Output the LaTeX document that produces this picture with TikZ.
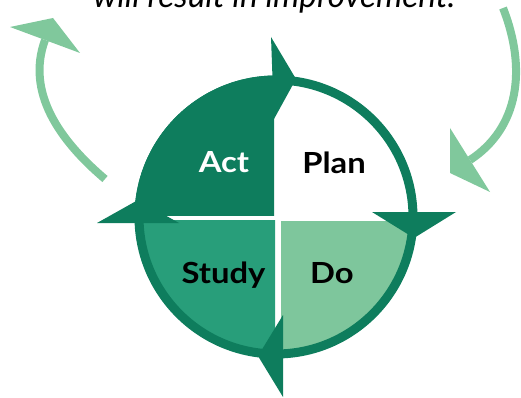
\documentclass[tikz,border=0pt]{standalone}
\usepackage{fontspec}
\setmainfont{Lato}
\usepackage{graphicx}
\definecolor{ringdark}{RGB}{14,125,93}
\definecolor{studyfill}{RGB}{40,158,122}
\definecolor{dofill}{RGB}{126,198,156}
\definecolor{outerarrow}{RGB}{128,200,156}
\newcommand{\lbltext}[1]{\scalebox{1.15}[1.02]{#1}}
\tikzset{
  lbl/.style={font=\bfseries\fontsize{28.5}{30}\selectfont, inner sep=0pt, anchor=base},
  outerline/.style={draw=outerarrow, line width=8pt},
  outerhead/.style={fill=outerarrow},
  ringhead/.style={fill=ringdark}
}
\begin{document}
\begin{tikzpicture}[x=1pt,y=-1pt]
\useasboundingbox (0,0) rectangle (521,398);
\clip (0,0) rectangle (521,398);
\coordinate (C) at (276,217);
% title (cut at top, as in the reference)
\node[anchor=base west, inner sep=0pt] (title) at (93,7.5)
  {\resizebox{362pt}{!}{\itshape will result in improvement.}};
% Study
\begin{scope}
  \clip (0,220) rectangle (275,398);
  \fill[studyfill] (C) circle (137);
\end{scope}
% Do
\begin{scope}
  \clip (281,221) rectangle (521,398);
  \fill[dofill] (C) circle (137);
\end{scope}
% ring
\draw[ringdark, line width=9pt] (C) circle (137);
% Act
\begin{scope}
  \clip (0,0) rectangle (274,215);
  \fill[ringdark] (C) circle (141.5);
\end{scope}
% ring arrowheads
\fill[ringhead] (271,37) -- (296,79) -- (274,119) -- cycle;
\fill[ringhead] (372,212) -- (456,212) -- (414,238) -- cycle;
\fill[ringhead] (283,315) -- (258,356) -- (283,397) -- cycle;
\fill[ringhead] (97,223) -- (138,200) -- (179,223) -- cycle;
% outer arrows
\coordinate (l0) at (105,179);
\coordinate (l1) at (45,40);
\draw[outerline] (l0) .. controls (59,140) and (26,92) .. (l1);
\fill[outerhead] (10,27) -- (53,18) -- (80,53) -- cycle;
\coordinate (r0) at (503,8);
\coordinate (r1) at (470,160);
\draw[outerline] (r0) .. controls (527,69) and (519,128) .. (r1);
\fill[outerhead] (450,128) -- (450,173) -- (490,192) -- cycle;
% labels
\node[lbl, text=white] (act) at (224,172) {\lbltext{Act}};
\node[lbl, text=black] (plan) at (334,173) {\lbltext{Plan}};
\node[lbl, text=black] (study) at (223.5,283) {\lbltext{Study}};
\node[lbl, text=black] (do) at (332,283) {\lbltext{Do}};
\end{tikzpicture}
\end{document}
